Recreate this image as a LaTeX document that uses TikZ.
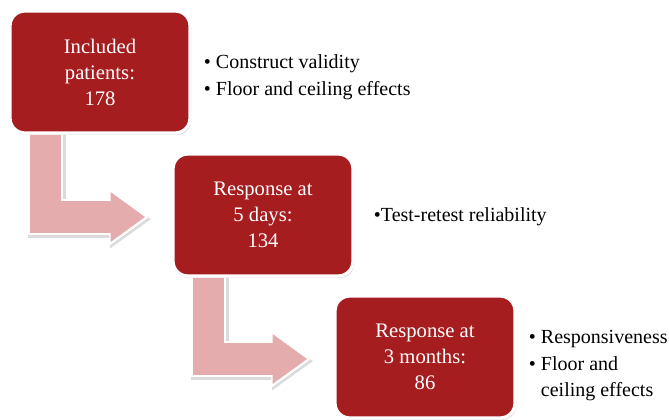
\documentclass[tikz,border=0pt]{standalone}
\usepackage{fontspec}
\setmainfont{Liberation Serif}
\usetikzlibrary{calc,shadows,arrows.meta,backgrounds}
\definecolor{boxred}{RGB}{166,29,32}
\definecolor{arrowpink}{RGB}{229,172,174}

\begin{document}
\begin{tikzpicture}[x=0.75pt,y=-0.75pt,
    stage/.style={rounded corners=11pt, fill=boxred, draw=white, line width=2.5pt,
        minimum width=135pt, minimum height=91.5pt, text=white, align=center,
        font=\fontsize{15.5}{19.5}\selectfont,
        drop shadow={shadow xshift=1pt, shadow yshift=-1.5pt, opacity=0.35}},
    outcomes/.style={anchor=west, inner sep=0pt, font=\fontsize{15}{20}\selectfont},
    bentshadow/.style={line width=28.5pt, color=black!14, -{Triangle[width=42pt,length=31pt]}},
    bentrim/.style={line width=26.5pt, color=white, -{Triangle[width=41pt,length=30pt]}},
    bentarrow/.style={line width=23.5pt, color=arrowpink, -{Triangle[width=35.5pt,length=26pt]}},
    ]
    \useasboundingbox (0,0) rectangle (669,420);

    \node[stage] (incl) at (100,72) {Included\\patients:\\178};
    \node[stage] (resp5) at (263,215) {Response at\\5 days:\\134};
    \node[stage] (resp3m) at (425,357) {Response at\\3 months:\\86};

    \node[outcomes] (incllist) at ($(incl.east)+(12,5)$)
        {\begin{tabular}{@{}l@{\ }l@{}}\textbullet & Construct validity\\ \textbullet & Floor and ceiling effects\end{tabular}};
    \node[outcomes] (resp5list) at ($(resp5.east)+(19,2)$) {\textbullet Test-retest reliability};
    \node[outcomes] (resp3mlist) at ($(resp3m.east)+(12,8)$)
        {\begin{tabular}{@{}l@{\ }l@{}}\textbullet & Responsiveness\\ \textbullet & Floor and\\ & ceiling effects\end{tabular}};

    \begin{scope}[on background layer]
        \draw[bentshadow] ($(incl.south west)+(38.5,0)$) |- ($(resp5.west)+(-20,4)$);
        \draw[bentrim] ($(incl.south west)+(37,0)$) |- ($(resp5.west)+(-22,2)$);
        \draw[bentarrow] ($(incl.south west)+(37,0)$) |- ($(resp5.west)+(-26,2)$);
        \draw[bentshadow] ($(resp5.south west)+(38.5,0)$) |- ($(resp3m.west)+(-20,4)$);
        \draw[bentrim] ($(resp5.south west)+(37,0)$) |- ($(resp3m.west)+(-22,2)$);
        \draw[bentarrow] ($(resp5.south west)+(37,0)$) |- ($(resp3m.west)+(-26,2)$);
    \end{scope}
\end{tikzpicture}
\end{document}
